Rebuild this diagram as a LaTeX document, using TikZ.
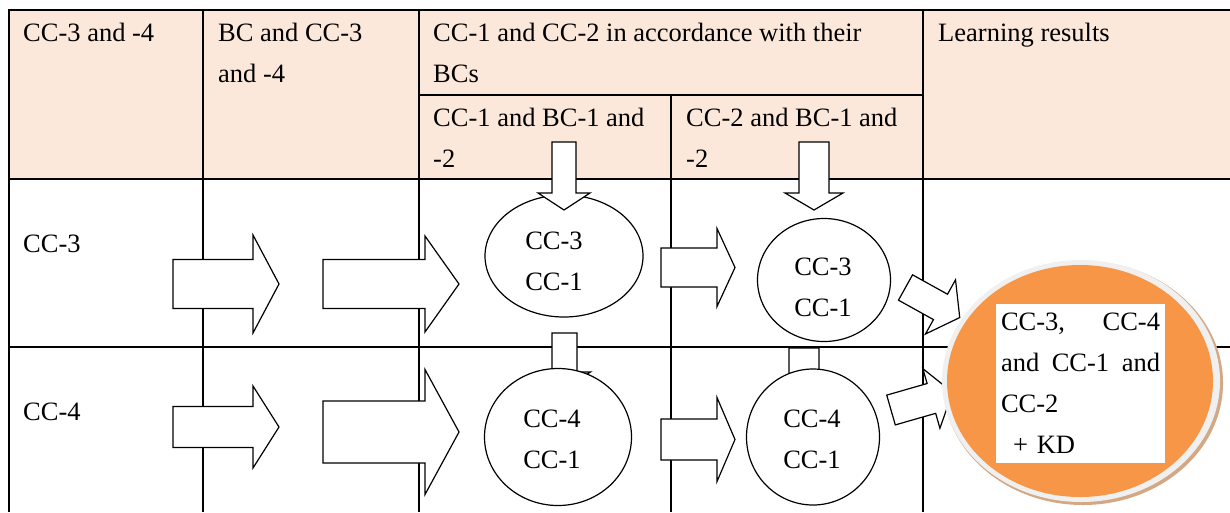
\documentclass[tikz,border=0pt]{standalone}
\usepackage{fontspec}
\setmainfont{Liberation Serif}
\usepackage{tikz}
\usetikzlibrary{shapes.geometric}
\definecolor{headfill}{RGB}{252,232,218}
\definecolor{resorange}{RGB}{247,150,70}
\definecolor{resrim}{RGB}{240,240,240}
\definecolor{resshade}{RGB}{212,168,133}
\tikzset{
    cell/.style={anchor=base west, inner sep=0mm, align=left},
    blob/.style={ellipse, draw, fill=white, line width=1.2pt, inner sep=0mm},
    blobtext/.style={inner sep=0mm, align=center},
    barrow/.style={draw, fill=white, line width=1.2pt, line join=miter},
    grid/.style={line width=1.6pt}
}
% tail point, angle, length, head length, half shaft, half head
\newcommand{\blockarrow}[6]{%
    \draw[barrow, shift={#1}, rotate=#2] (0,-#5) -- ({#3-#4},-#5) -- ({#3-#4},-#6) -- (#3,0)
        -- ({#3-#4},#6) -- ({#3-#4},#5) -- (0,#5) -- cycle;}

\begin{document}
\begin{tikzpicture}[x=1pt, y=-1pt, font=\fontsize{26.5}{41}\selectfont]
    \useasboundingbox (0,0) rectangle (1230,512);

    % table
    \fill[headfill] (9,10) rectangle (1230,179);
    \draw[grid] (1230,10) -- (9,10) -- (9,512);
    \draw[grid] (9,179) -- (1230,179);
    \draw[grid] (9,347) -- (1230,347);
    \draw[grid] (419,95) -- (923,95);
    \draw[grid] (203,10) -- (203,512);
    \draw[grid] (419,10) -- (419,512);
    \draw[grid] (671,95) -- (671,512);
    \draw[grid] (923,10) -- (923,512);

    % base = last line
    \node[cell] (h1) at (23,41) {CC-3 and -4};
    \node[cell] (h2) at (218,82) {BC and CC-3\\and -4};
    \node[cell] (h3) at (433,82) {CC-1 and CC-2 in accordance with their\\BCs};
    \node[cell] (h3a) at (433,167) {CC-1 and BC-1 and\\-2};
    \node[cell] (h3b) at (686,167) {CC-2 and BC-1 and\\-2};
    \node[cell] (h4) at (938,41) {Learning results};
    \node[cell] (r1) at (23,252) {CC-3};
    \node[cell] (r2) at (23,420) {CC-4};

    % stubs under the lower ellipses
    \blockarrow{(564.5,333)}{-90}{56}{17}{12.5}{26}
    \blockarrow{(804,348)}{-90}{45}{12}{15}{25}

    \node[blob, minimum width=158pt, minimum height=122pt] (e31) at (564,256) {};
    \node[blob, minimum width=133pt, minimum height=123pt] (e41) at (824,280) {};
    \node[blob, minimum width=147pt, minimum height=137pt] (e32) at (558,437) {};
    \node[blob, minimum width=133pt, minimum height=136pt] (e42) at (813,437) {};
    \node[blobtext] (t31) at (554,261) {CC-3\\CC-1};
    \node[blobtext] (t41) at (823,287) {CC-3\\CC-1};
    \node[blobtext] (t32) at (552,439) {CC-4\\CC-1};
    \node[blobtext] (t42) at (812,439) {CC-4\\CC-1};

    % block arrows
    \blockarrow{(564,142)}{-90}{68}{17}{12}{26}
    \blockarrow{(814,142)}{-90}{68}{17}{15}{29}
    \blockarrow{(173,284)}{0}{106}{26}{24.5}{49}
    \blockarrow{(323,284)}{0}{136}{34}{24.5}{48}
    \blockarrow{(173,427)}{0}{106}{26}{20.5}{41}
    \blockarrow{(323,432)}{0}{136}{34}{31}{62.5}
    \blockarrow{(661,267.5)}{0}{74}{18}{19.5}{39}
    \blockarrow{(661,439.5)}{0}{74}{18}{20.5}{42}
    \blockarrow{(905.5,287.5)}{-29}{62}{22}{14.5}{31}
    \blockarrow{(891,410)}{16}{64}{22}{15.5}{31}

    % learning results
    \fill[resshade] (1083,383) ellipse [x radius=140pt, y radius=122pt];
    \fill[resrim] (1081,381) ellipse [x radius=139pt, y radius=121pt];
    \fill[resorange] (1080,381) ellipse [x radius=133pt, y radius=116pt];
    \node[fill=white, minimum width=169pt, minimum height=159pt, text width=159pt,
        inner sep=0mm, align=left] (kd) at (1080.5,383)
        {CC-3,\hfill CC-4\\and\hfill CC-1\hfill and\\CC-2\\\hspace*{12pt}+ KD};
\end{tikzpicture}
\end{document}
